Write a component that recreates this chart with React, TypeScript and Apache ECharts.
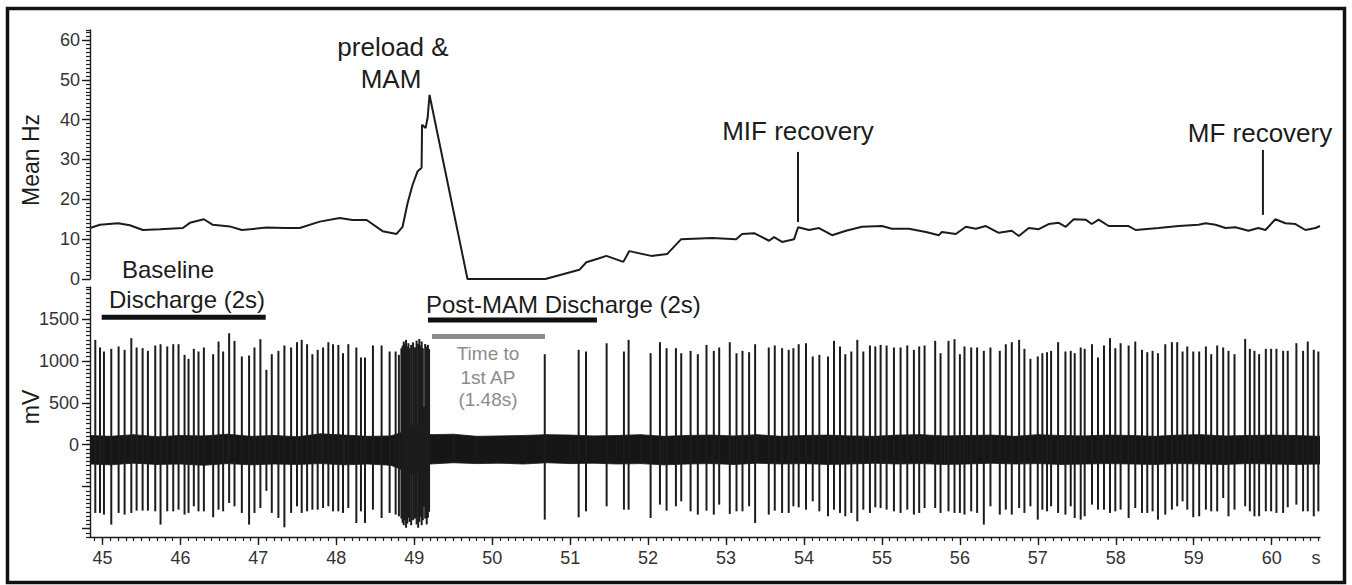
import { useEffect, useRef } from "react";
import * as echarts from "echarts";

const FONT = "'Liberation Sans', Arial, Helvetica, sans-serif";

// ---- Mean Hz trace (top panel) ----
const hzTimes = [44.84, 44.968, 45.199, 45.352, 45.519, 45.737, 46.032, 46.121, 46.301, 46.416, 46.634, 46.788, 47.108, 47.338, 47.531, 47.787, 48.043, 48.21, 48.389, 48.594, 48.773, 48.85, 48.914, 48.978, 49.042, 49.094, 49.1, 49.145, 49.171, 49.196, 49.683, 50.682, 51.118, 51.208, 51.374, 51.464, 51.682, 51.759, 52.041, 52.246, 52.425, 52.822, 53.13, 53.206, 53.36, 53.552, 53.616, 53.719, 53.873, 53.924, 54.065, 54.193, 54.36, 54.539, 54.744, 55.0, 55.128, 55.346, 55.564, 55.73, 55.769, 55.948, 56.077, 56.204, 56.333, 56.499, 56.666, 56.756, 56.884, 57.012, 57.14, 57.268, 57.358, 57.46, 57.614, 57.691, 57.781, 57.909, 58.165, 58.255, 58.549, 58.806, 59.062, 59.151, 59.28, 59.408, 59.536, 59.702, 59.83, 59.92, 60.048, 60.177, 60.305, 60.433, 60.561, 60.62];
const hzValues = [12.8, 13.6, 14.0, 13.5, 12.3, 12.5, 12.8, 14.1, 15.0, 13.6, 13.2, 12.3, 12.9, 12.8, 12.8, 14.4, 15.3, 14.8, 14.8, 12.0, 11.3, 13.1, 19.0, 23.6, 27.0, 27.9, 38.7, 37.9, 40.4, 46.2, 0, 0, 2.3, 4.2, 5.2, 5.8, 4.3, 7.0, 5.8, 6.3, 10.0, 10.3, 10.0, 11.3, 11.5, 9.6, 10.5, 9.3, 10.0, 13.0, 12.3, 12.8, 11.0, 12.1, 13.1, 13.3, 12.6, 12.6, 11.8, 11.0, 11.8, 11.3, 13.1, 12.6, 13.3, 11.6, 12.1, 10.8, 12.8, 12.5, 13.8, 14.1, 13.1, 15.0, 14.9, 13.8, 14.9, 13.3, 13.3, 12.3, 12.8, 13.3, 13.6, 14.0, 13.6, 12.8, 13.0, 12.1, 12.8, 12.3, 15.0, 14.0, 13.8, 12.3, 12.8, 13.3];

// ---- Spikes (bottom panel): time (s), peak (mV), trough (mV) ----
const spikeTimes = [44.908, 44.968, 45.019, 45.113, 45.207, 45.284, 45.37, 45.438, 45.515, 45.583, 45.677, 45.745, 45.831, 45.908, 45.976, 46.053, 46.104, 46.172, 46.232, 46.301, 46.42, 46.489, 46.548, 46.625, 46.694, 46.788, 46.881, 46.95, 47.026, 47.103, 47.172, 47.257, 47.334, 47.42, 47.496, 47.556, 47.625, 47.693, 47.761, 47.83, 47.898, 47.958, 48.026, 48.086, 48.154, 48.257, 48.316, 48.368, 48.47, 48.581, 48.684, 48.761, 48.803,
  50.674, 51.109, 51.203, 51.468, 51.69, 51.75, 52.032, 52.152, 52.237, 52.357, 52.425, 52.545, 52.638, 52.749, 52.843, 52.912, 53.048, 53.134, 53.211, 53.296, 53.373,
  53.548, 53.625, 53.719, 53.804, 53.864, 53.932, 54.026, 54.112, 54.197, 54.308, 54.385, 54.462, 54.53, 54.607, 54.684, 54.761, 54.846, 54.915, 54.983, 55.06, 55.154, 55.239, 55.325, 55.41, 55.478, 55.547, 55.683, 55.752, 55.854, 55.931, 56.0, 56.059, 56.145, 56.221, 56.307, 56.392, 56.512, 56.589, 56.666, 56.76, 56.828, 56.905, 56.999, 57.058, 57.118, 57.17,
  57.26, 57.354, 57.422, 57.473, 57.55, 57.601, 57.695, 57.772, 57.849, 57.926, 57.994, 58.062, 58.165, 58.25, 58.336, 58.404, 58.472, 58.541, 58.635, 58.72, 58.788, 58.857, 58.917, 58.994, 59.07, 59.156, 59.224, 59.301, 59.378, 59.446, 59.523, 59.66, 59.72, 59.779, 59.839, 59.925, 59.993, 60.061, 60.147, 60.206, 60.317, 60.403, 60.463, 60.54, 60.599];
const spikeTops = [1250, 1159, 1111, 1143, 1171, 1131, 1270, 1159, 1151, 1119, 1183, 1198, 1171, 1198, 1198, 1071, 1024, 1143, 1111, 1159, 1079, 1230, 1111, 1329, 1238, 1052, 1063, 1159, 1258, 893, 1079, 1119, 1183, 1159, 1222, 1250, 1198, 1079, 1131, 1159, 1222, 1198, 1190, 1091, 1198, 1159, 1040, 1040, 1183, 1183, 1111, 1111, 1071,
  1079, 1131, 1111, 1210, 1111, 1250, 1091, 1222, 1151, 1151, 1091, 1119, 1079, 1190, 1119, 1159, 1222, 1091, 1119, 1103, 1198,
  1159, 1183, 1151, 1131, 1151, 1198, 1210, 1052, 1071, 1052, 1238, 1171, 1079, 1111, 1250, 1111, 1183, 1171, 1190, 1183, 1159, 1159, 1183, 1131, 1171, 1183, 1238, 1091, 1238, 1258, 1079, 1171, 1159, 1159, 1119, 1159, 1119, 1198, 1222, 1250, 1143, 1024, 1052, 1091, 1103, 1119,
  1222, 1111, 1119, 1091, 1159, 1143, 1198, 1040, 1183, 1270, 1151, 1210, 1183, 1230, 1131, 1103, 1119, 1091, 1198, 1222, 1222, 1111, 1171, 1111, 1111, 1171, 1079, 1183, 1159, 1119, 1079, 1262, 1143, 1119, 1079, 1143, 1143, 1143, 1119, 1119, 1210, 1119, 1230, 1131, 1111];
const spikeBottoms = [-813, -813, -833, -952, -813, -833, -813, -786, -786, -786, -794, -952, -794, -794, -774, -833, -813, -734, -794, -794, -865, -774, -794, -694, -734, -813, -952, -813, -754, -550, -813, -873, -984, -813, -734, -813, -794, -774, -774, -754, -734, -794, -794, -813, -754, -933, -794, -933, -774, -873, -813, -833, -853,
  -893, -865, -794, -734, -774, -774, -873, -714, -786, -734, -675, -794, -833, -786, -833, -714, -825, -794, -794, -734, -933,
  -833, -786, -813, -813, -734, -746, -774, -675, -794, -853, -774, -813, -853, -813, -913, -774, -813, -746, -754, -774, -794, -813, -774, -833, -813, -754, -754, -813, -794, -813, -813, -833, -794, -813, -952, -734, -833, -774, -833, -754, -813, -734, -893, -774, -794, -734,
  -813, -833, -734, -873, -893, -853, -714, -774, -774, -813, -794, -774, -873, -754, -813, -813, -794, -893, -833, -774, -734, -675, -774, -865, -853, -774, -794, -794, -635, -853, -774, -734, -794, -853, -853, -794, -794, -813, -813, -746, -714, -794, -794, -853, -794];

// ---- Preload & MAM burst ----
const burstTimes = [48.835, 48.85, 48.865, 48.88, 48.895, 48.91, 48.925, 48.94, 48.96, 48.985, 49.01, 49.03, 49.05, 49.065, 49.08, 49.095, 49.11, 49.125, 49.14, 49.16, 49.175, 49.19];
const burstTops = [1150, 1180, 1230, 1200, 1250, 1170, 1210, 1150, 1190, 1220, 1160, 1240, 1200, 1260, 1180, 1230, 1150, 450, 1200, 1170, 1190, 1140];
const burstBottoms = [-880, -930, -960, -900, -990, -940, -870, -920, -960, -900, -880, -950, -990, -920, -860, -960, -900, -740, -880, -950, -870, -800];

// ---- Background noise envelope ----
const noiseTimes = [44.84, 45.1, 45.4, 45.7, 46.0, 46.3, 46.6, 46.9, 47.2, 47.5, 47.8, 48.1, 48.4, 48.7, 48.85, 49.0, 49.2, 49.5, 49.8, 50.1, 50.4, 50.7, 51.0, 51.3, 51.6, 51.9, 52.2, 52.5, 52.8, 53.1, 53.4, 53.7, 54.0, 54.3, 54.6, 54.9, 55.2, 55.5, 55.8, 56.1, 56.4, 56.7, 57.0, 57.3, 57.6, 57.9, 58.2, 58.5, 58.8, 59.1, 59.4, 59.7, 60.0, 60.3, 60.62];
const noiseUpper = [110, 100, 120, 95, 110, 105, 125, 100, 110, 95, 130, 115, 100, 105, 150, 250, 120, 125, 100, 105, 110, 120, 115, 105, 110, 120, 100, 110, 115, 105, 120, 100, 110, 115, 105, 100, 115, 120, 105, 110, 115, 100, 120, 110, 105, 115, 110, 100, 115, 120, 105, 110, 115, 110, 100];
const noiseLower = [-230, -240, -220, -235, -230, -245, -225, -240, -230, -235, -225, -240, -230, -245, -300, -350, -230, -215, -225, -220, -230, -215, -225, -220, -230, -225, -240, -230, -225, -235, -220, -230, -225, -235, -230, -220, -230, -225, -235, -230, -220, -230, -225, -235, -230, -225, -230, -235, -225, -230, -235, -225, -230, -235, -230];

// ---- Axes ----
const X_MIN = 44.84;
const X_MAX = 60.62;
const xTickValues = [45, 46, 47, 48, 49, 50, 51, 52, 53, 54, 55, 56, 57, 58, 59, 60];
const hzTickValues = [0, 10, 20, 30, 40, 50, 60];
const mvTickValues = [-1000, -500, 0, 500, 1000, 1500];
const mvLabelValues = [0, 500, 1000, 1500];

// ---- Annotation bars / markers (data coordinates) ----
const baselineBar = [[44.99, 1520], [47.094, 1520]];
const postMamBar = [[49.176, 1488], [51.344, 1488]];
const timeToApBar = [[49.227, 1289], [50.677, 1289]];
const mifMarker = [[53.923, 14.3], [53.923, 31.9]];
const mfMarker = [[59.888, 16.1], [59.888, 32.4]];

const xMinorTicks: number[] = [];
for (let k = 449; k <= 606; k++) xMinorTicks.push(k / 10);

const INK = "#1c1c1c";

export default function App() {
  const ref = useRef<HTMLDivElement>(null);
  useEffect(() => {
    if (!ref.current) return;
    const chart = echarts.init(ref.current, null, { renderer: "svg" });

    const spikeData = spikeTimes.map((t, i) => [t, spikeTops[i], spikeBottoms[i]])
      .concat(burstTimes.map((t, i) => [t, burstTops[i], burstBottoms[i]]));
    const noiseData = noiseTimes.map((t, i) => [t, noiseUpper[i], noiseLower[i]]);

    const tickStyle = { color: INK, width: 1.4 };
    const labelStyle = { fontSize: 18, color: "#333", fontFamily: FONT };

    const text = (x: number, y: number, s: string, size: number, extra: any = {}, rotation = 0) => ({
      type: "text",
      x,
      y,
      rotation,
      style: { text: s, fontSize: size, fontFamily: FONT, fill: INK, textAlign: "center", textVerticalAlign: "middle", ...extra },
    });

    chart.setOption({
      animation: false,
      backgroundColor: "#fff",
      grid: [
        { left: 90, top: 30, width: 1230, height: 249 },
        { left: 90, top: 287, width: 1230, height: 250 },
      ],
      xAxis: [
        { gridIndex: 0, type: "value", min: X_MIN, max: X_MAX, show: false },
        {
          gridIndex: 1, type: "value", position: "bottom", min: X_MIN, max: X_MAX,
          axisLine: { show: true, onZero: false, lineStyle: tickStyle },
          axisTick: { show: true, length: 8, customValues: xTickValues, lineStyle: tickStyle },
          axisLabel: { ...labelStyle, margin: 12, customValues: xTickValues, formatter: (v: number) => String(Math.round(v)) },
          splitLine: { show: false },
        },
        {
          gridIndex: 1, type: "value", position: "bottom", min: X_MIN, max: X_MAX,
          axisLine: { show: false, onZero: false },
          axisTick: { show: true, length: 4, customValues: xMinorTicks, lineStyle: { color: INK, width: 1.2 } },
          axisLabel: { show: false },
          splitLine: { show: false },
        },
      ],
      yAxis: [
        {
          gridIndex: 0, type: "value", position: "left", min: 0, max: 62.5,
          axisLine: { show: true, onZero: false, lineStyle: tickStyle },
          axisTick: { show: true, length: 8, customValues: hzTickValues, lineStyle: tickStyle },
          axisLabel: { ...labelStyle, margin: 10, customValues: hzTickValues, formatter: (v: number) => String(v) },
          splitLine: { show: false },
        },
        {
          gridIndex: 1, type: "value", position: "left", min: -1100, max: 1880,
          axisLine: { show: true, onZero: false, lineStyle: tickStyle },
          axisTick: { show: true, length: 8, customValues: mvTickValues, lineStyle: tickStyle },
          axisLabel: { ...labelStyle, margin: 11, customValues: mvLabelValues, formatter: (v: number) => String(v) },
          splitLine: { show: false },
        },
        {
          gridIndex: 0, type: "value", position: "left", min: 0, max: 62.5, interval: 1,
          axisLine: { show: false, onZero: false },
          axisTick: { show: true, length: 4, lineStyle: { color: INK, width: 1.2 } },
          axisLabel: { show: false },
          splitLine: { show: false },
        },
        {
          gridIndex: 1, type: "value", position: "left", min: -1100, max: 1880, interval: 50,
          axisLine: { show: false, onZero: false },
          axisTick: { show: true, length: 4, lineStyle: { color: INK, width: 1.2 } },
          axisLabel: { show: false },
          splitLine: { show: false },
        },
      ],
      series: [
        {
          type: "line", xAxisIndex: 0, yAxisIndex: 0,
          data: hzTimes.map((t, i) => [t, hzValues[i]]),
          showSymbol: false, symbol: "none",
          lineStyle: { color: INK, width: 2 },
          silent: true, clip: true,
        },
        {
          type: "line", xAxisIndex: 0, yAxisIndex: 0, data: mifMarker,
          symbol: "none", lineStyle: { color: INK, width: 2 }, silent: true,
        },
        {
          type: "line", xAxisIndex: 0, yAxisIndex: 0, data: mfMarker,
          symbol: "none", lineStyle: { color: INK, width: 2 }, silent: true,
        },
        {
          type: "custom", xAxisIndex: 1, yAxisIndex: 1, data: noiseData,
          encode: { x: 0, y: [1, 2] }, silent: true, clip: true,
          renderItem: (params: any, api: any) => {
            const i = params.dataIndex;
            if (i >= noiseTimes.length - 1) return null;
            const a = api.coord([noiseTimes[i], noiseUpper[i]]);
            const b = api.coord([noiseTimes[i + 1], noiseUpper[i + 1]]);
            const c = api.coord([noiseTimes[i + 1], noiseLower[i + 1]]);
            const d = api.coord([noiseTimes[i], noiseLower[i]]);
            return {
              type: "polygon",
              shape: { points: [a, b, c, d] },
              style: { fill: "#161616", stroke: "#161616", lineWidth: 0.8 },
            };
          },
        },
        {
          type: "custom", xAxisIndex: 1, yAxisIndex: 1, data: spikeData,
          encode: { x: 0, y: [1, 2] }, silent: true, clip: true,
          renderItem: (_params: any, api: any) => {
            const p1 = api.coord([api.value(0), api.value(1)]);
            const p2 = api.coord([api.value(0), api.value(2)]);
            return {
              type: "line",
              shape: { x1: p1[0], y1: p1[1], x2: p2[0], y2: p2[1] },
              style: { stroke: INK, lineWidth: 2 },
            };
          },
        },
        {
          type: "line", xAxisIndex: 1, yAxisIndex: 1, data: baselineBar,
          symbol: "none", lineStyle: { color: "#111", width: 5 }, silent: true,
        },
        {
          type: "line", xAxisIndex: 1, yAxisIndex: 1, data: postMamBar,
          symbol: "none", lineStyle: { color: "#111", width: 5 }, silent: true,
        },
        {
          type: "line", xAxisIndex: 1, yAxisIndex: 1, data: timeToApBar,
          symbol: "none", lineStyle: { color: "#8c8c8c", width: 5 }, silent: true,
        },
      ],
      graphic: [
        {
          type: "rect", shape: { x: 7.5, y: 8.5, width: 1337, height: 574 },
          style: { fill: "none", stroke: "#111", lineWidth: 3.5 }, silent: true,
        },
        text(31, 160, "Mean Hz", 23, {}, Math.PI / 2),
        text(31, 407, "mV", 23, {}, Math.PI / 2),
        text(393, 47, "preload &", 26),
        text(391, 79, "MAM", 26),
        text(798, 131, "MIF recovery", 26),
        text(1260, 133, "MF recovery", 26),
        text(122, 269, "Baseline", 24, { textAlign: "left" }),
        text(109, 299, "Discharge (2s)", 24, { textAlign: "left" }),
        text(426, 304, "Post-MAM Discharge (2s)", 24, { textAlign: "left" }),
        text(488, 353, "Time to", 19, { fill: "#8c8c8c" }),
        text(488, 377, "1st AP", 19, { fill: "#8c8c8c" }),
        text(488, 399, "(1.48s)", 19, { fill: "#8c8c8c" }),
        text(1316, 558, "s", 18, { fill: "#333" }),
      ],
    });

    return () => chart.dispose();
  }, []);

  return (
    <div
      ref={ref}
      style={{ position: "fixed", left: 0, top: 0, width: 1352, height: 585, background: "#fff" }}
    />
  );
}
